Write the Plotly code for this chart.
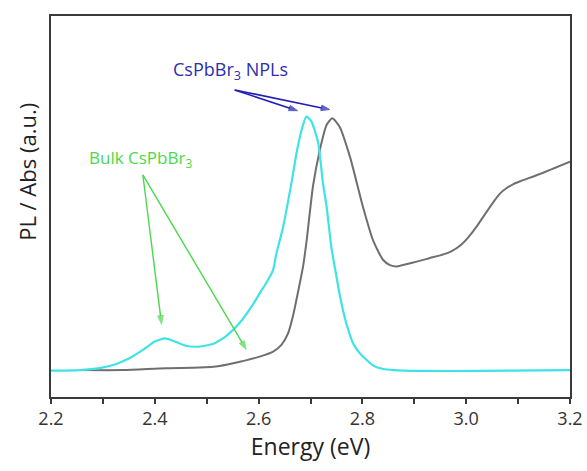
import plotly.graph_objects as go

# Photoluminescence spectrum (cyan)
pl_energy = [2.200, 2.255, 2.294, 2.326, 2.351, 2.377, 2.400, 2.419, 2.435, 2.461,
             2.486, 2.512, 2.525, 2.538, 2.564, 2.589, 2.602, 2.615, 2.628, 2.634,
             2.647, 2.666, 2.673, 2.683, 2.692, 2.702, 2.715, 2.724, 2.731, 2.740,
             2.750, 2.757, 2.769, 2.782, 2.795, 2.821, 2.840, 2.860, 2.911, 3.026,
             3.142, 3.200]
pl_signal = [9.4, 9.6, 10.3, 11.8, 13.8, 16.8, 19.8, 20.9, 20.1, 18.2,
             18.0, 18.9, 20.2, 21.8, 26.6, 33.0, 37.0, 40.8, 45.4, 51.0,
             60.5, 79.3, 87.0, 95.4, 100.1, 98.3, 90.6, 76.3, 68.0, 53.7,
             43.0, 35.8, 26.3, 19.2, 15.6, 11.2, 10.0, 9.6, 9.3, 9.3,
             9.5, 9.6]

# Absorption spectrum (gray)
abs_energy = [2.255, 2.339, 2.422, 2.486, 2.525, 2.564, 2.602, 2.628, 2.644, 2.657,
              2.666, 2.676, 2.686, 2.692, 2.705, 2.718, 2.731, 2.742, 2.756, 2.776,
              2.801, 2.821, 2.840, 2.853, 2.866, 2.898, 2.930, 2.956, 2.972, 2.988,
              3.004, 3.020, 3.036, 3.052, 3.065, 3.078, 3.091, 3.104, 3.142, 3.200]
abs_signal = [9.6, 9.6, 10.3, 10.5, 11.1, 12.6, 14.4, 16.2, 18.6, 22.8,
              28.7, 37.5, 47.0, 55.0, 75.5, 88.2, 97.1, 99.5, 96.5, 85.8,
              67.9, 55.7, 48.9, 47.1, 46.6, 48.0, 49.6, 50.9, 52.1, 54.0,
              57.0, 60.8, 65.2, 69.5, 72.6, 74.6, 76.0, 77.0, 79.6, 84.0]

x_ticks = [2.2, 2.4, 2.6, 2.8, 3.0, 3.2]
x_tick_text = ["2.2", "2.4", "2.6", "2.8", "3.0", "3.2"]

FONT = "Open Sans"
AXIS_COLOR = "#3a3a3a"
NPL_BLUE = "#1f1fb4"
BULK_GREEN = "#4cd84c"

fig = go.Figure()
fig.add_trace(go.Scatter(x=abs_energy, y=abs_signal, mode="lines",
                         line=dict(color="#6f6f6f", width=2, shape="spline", smoothing=0.6),
                         showlegend=False, hoverinfo="skip"))
fig.add_trace(go.Scatter(x=pl_energy, y=pl_signal, mode="lines",
                         line=dict(color="#3fe3e6", width=2.2, shape="spline", smoothing=0.5),
                         showlegend=False, hoverinfo="skip"))


def add_arrow(tail, tip, color, width, head):
    """Straight pointer from tail to tip with a filled head at the tip."""
    fig.add_trace(go.Scatter(
        x=[tail[0], tip[0]], y=[tail[1], tip[1]], mode="lines+markers",
        line=dict(color=color, width=width),
        marker=dict(symbol=["circle", "arrow"], size=[width, head], color=color,
                    angleref="previous", line=dict(width=1, color=color)),
        showlegend=False, hoverinfo="skip"))


# NPL pointers to both band-edge peaks
for tip in [(2.675, 102.2), (2.737, 102.6)]:
    add_arrow((2.554, 109.6), tip, NPL_BLUE, 1.6, 9)

# Bulk pointers to the low-energy features
for tip in [(2.413, 26.0), (2.576, 17.0)]:
    add_arrow((2.377, 79.3), tip, BULK_GREEN, 1.4, 9)

annotations = [
    dict(x=2.431, y=116.5, xref="x", yref="y", xanchor="left", yanchor="middle",
         text="CsPbBr<sub>3</sub> NPLs", showarrow=False,
         font=dict(family=FONT, size=18, color="#2e2eb0")),
    dict(x=2.270, y=85.2, xref="x", yref="y", xanchor="left", yanchor="middle",
         text="Bulk CsPbBr<sub>3</sub>", showarrow=False,
         font=dict(family=FONT, size=17, color=BULK_GREEN)),
    dict(x=-0.045, y=0.59, xref="paper", yref="paper", textangle=-90,
         text="PL / Abs (a.u.)", showarrow=False, xanchor="center", yanchor="middle",
         font=dict(family=FONT, size=22, color="#222222")),
]

fig.update_layout(
    width=587, height=471,
    margin=dict(l=51, r=17, t=16, b=74, autoexpand=False),
    paper_bgcolor="white", plot_bgcolor="white",
    annotations=annotations,
    xaxis=dict(range=[2.2, 3.2], tickvals=x_ticks, ticktext=x_tick_text,
               ticks="outside", ticklen=5, tickwidth=1.5, tickcolor=AXIS_COLOR,
               minor=dict(dtick=0.1, tick0=2.2, ticks="outside", ticklen=5, tickwidth=1.5,
                          tickcolor=AXIS_COLOR, showgrid=False),
               showline=True, linecolor=AXIS_COLOR, linewidth=1.5, mirror=True,
               showgrid=False, zeroline=False, automargin=False,
               tickfont=dict(family=FONT, size=18, color="#333333"),
               title=dict(text="Energy (eV)", font=dict(family=FONT, size=23, color="#222222"),
                          standoff=10)),
    yaxis=dict(range=[0, 136], showticklabels=False, ticks="",
               showline=True, linecolor=AXIS_COLOR, linewidth=1.5, mirror=True,
               showgrid=False, zeroline=False, automargin=False),
)

fig.write_html("out.html")
